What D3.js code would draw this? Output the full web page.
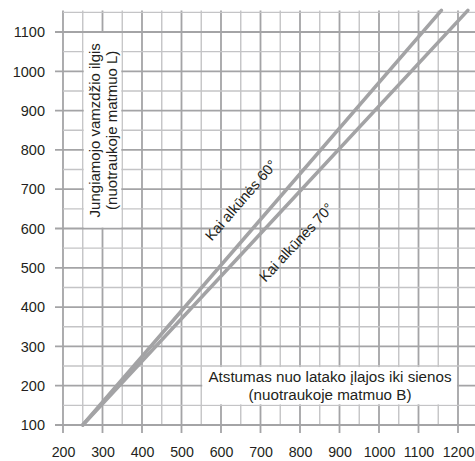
<!DOCTYPE html>
<html>
<head>
<meta charset="utf-8">
<script src="https://cdn.jsdelivr.net/npm/d3@7.9.0/dist/d3.min.js"></script>
<style>
  html, body { margin: 0; padding: 0; background: #fff; }
  svg { display: block; font-family: "Liberation Sans", Arial, sans-serif; }
  text { fill: #231f20; }
</style>
</head>
<body>
<svg id="chart" width="475" height="461"></svg>
<script>
// ------------------- Data -------------------
const xTickValues = [200, 300, 400, 500, 600, 700, 800, 900, 1000, 1100, 1200];
const yTickValues = [100, 200, 300, 400, 500, 600, 700, 800, 900, 1000, 1100];
const seriesNames = ['Kai alkūnės 60°', 'Kai alkūnės 70°'];
const line60 = [[250, 100], [1158, 1155]];
const line70 = [[250, 100], [1225, 1155]];
const yTitle = ['Jungiamojo vamzdžio ilgis', '(nuotraukoje matmuo L)'];
const xTitle = ['Atstumas nuo latako įlajos iki sienos', '(nuotraukoje matmuo B)'];

// ------------------- Scales -------------------
const width = 475, height = 461;
const x = d3.scaleLinear().domain([200, 1200]).range([63, 458]);
const y = d3.scaleLinear().domain([100, 1100]).range([425, 32]);
const gridTop = y(1155);

const svg = d3.select('#chart');

// ------------------- Grid -------------------
const grid = svg.append('g').attr('class', 'grid');
const xGrid = d3.range(200, 1251, 50);
const yGrid = d3.range(100, 1151, 50);

grid.selectAll('line.v')
  .data(xGrid)
  .join('line')
  .attr('class', 'v')
  .attr('x1', d => x(d)).attr('x2', d => x(d))
  .attr('y1', gridTop)
  .attr('y2', d => d % 100 === 0 ? y(100) + 8 : y(100))
  .attr('stroke', d => d % 100 === 0 ? '#a4a4a6' : '#c4c4c6')
  .attr('stroke-width', d => d % 100 === 0 ? 1.8 : 1.4);

grid.selectAll('line.h')
  .data(yGrid)
  .join('line')
  .attr('class', 'h')
  .attr('y1', d => y(d)).attr('y2', d => y(d))
  .attr('x1', d => d % 100 === 0 ? x(200) - 8 : x(200))
  .attr('x2', width)
  .attr('stroke', d => d % 100 === 0 ? '#a4a4a6' : '#c4c4c6')
  .attr('stroke-width', d => d % 100 === 0 ? 1.8 : 1.4);

// ------------------- Axis labels -------------------
svg.append('g')
  .selectAll('text')
  .data(yTickValues)
  .join('text')
  .attr('x', 45)
  .attr('y', d => y(d))
  .attr('dy', '0.36em')
  .attr('text-anchor', 'end')
  .style('font-size', '14.5px')
  .text(d => d);

svg.append('g')
  .selectAll('text')
  .data(xTickValues)
  .join('text')
  .attr('x', d => x(d) + 0.5)
  .attr('y', 457)
  .attr('text-anchor', 'middle')
  .style('font-size', '14.2px')
  .text(d => d);

// ------------------- Title boxes -------------------
svg.append('rect')
  .attr('x', x(250) + 1).attr('y', y(1100) + 1)
  .attr('width', x(350) - x(250) - 2).attr('height', y(600) - y(1100) - 2)
  .attr('fill', '#fff');

const yt = svg.append('text')
  .attr('transform', `translate(${(x(250) + x(350)) / 2},${(y(600) + y(1100)) / 2}) rotate(-90)`)
  .attr('text-anchor', 'middle')
  .style('font-size', '15px');
yTitle.forEach((t, i) => {
  yt.append('tspan').attr('x', 0).attr('y', i === 0 ? -3 : 14).text(t);
});

svg.append('rect')
  .attr('x', x(550) + 1).attr('y', y(250) + 1)
  .attr('width', x(1200) - x(550) - 2).attr('height', y(150) - y(250) - 2)
  .attr('fill', '#fff');

const xt = svg.append('text')
  .attr('text-anchor', 'middle')
  .style('font-size', '15.2px');
xTitle.forEach((t, i) => {
  xt.append('tspan').attr('x', 330).attr('y', i === 0 ? 382 : 400).text(t);
});

// ------------------- Lines -------------------
const lineGen = d3.line().x(d => x(d[0])).y(d => y(d[1]));
svg.append('g')
  .selectAll('path')
  .data([line60, line70])
  .join('path')
  .attr('d', lineGen)
  .attr('fill', 'none')
  .attr('stroke', '#a3a3a5')
  .attr('stroke-width', 3.6)
  .attr('stroke-linecap', 'round');

// ------------------- Line labels -------------------
const labelPos = [[650, 672], [790, 565]];
[line60, line70].forEach((ln, i) => {
  const dx = x(ln[1][0]) - x(ln[0][0]);
  const dy = y(ln[1][1]) - y(ln[0][1]);
  const angle = Math.atan2(dy, dx) * 180 / Math.PI;
  svg.append('text')
    .attr('transform', `translate(${x(labelPos[i][0])},${y(labelPos[i][1])}) rotate(${angle})`)
    .attr('text-anchor', 'middle')
    .attr('dy', '0.36em')
    .style('font-size', '14.5px')
    .text(seriesNames[i]);
});
</script>
</body>
</html>
